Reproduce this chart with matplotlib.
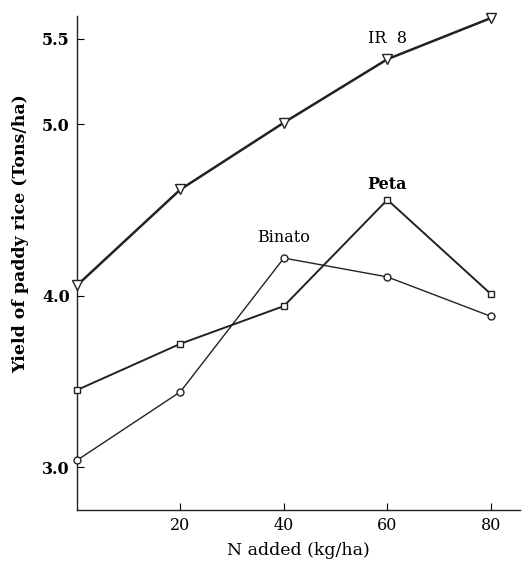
import matplotlib.pyplot as plt

# N added (kg/ha)
n_added = [0, 20, 40, 60, 80]

# yield of paddy rice (Tons/ha)
ir8 = [4.06, 4.62, 5.01, 5.38, 5.62]
peta = [3.45, 3.72, 3.94, 4.56, 4.01]
binato = [3.04, 3.44, 4.22, 4.11, 3.88]

x_ticks = [20, 40, 60, 80]
y_ticks = [3.0, 4.0, 5.0, 5.5]

plt.rcParams['font.family'] = ['DejaVu Serif']

fig = plt.figure(figsize=(5.23, 5.63), dpi=100)
ax = fig.add_axes([0.147, 0.094, 0.847, 0.877])

ax.plot(n_added, ir8, color='#222222', lw=1.8, marker='v', ms=7,
        mfc='white', mec='#222222', mew=1.0, clip_on=False, zorder=3)
ax.plot(n_added, peta, color='#222222', lw=1.4, marker='s', ms=5,
        mfc='white', mec='#222222', mew=1.0, clip_on=False, zorder=3)
ax.plot(n_added, binato, color='#222222', lw=1.0, marker='o', ms=5,
        mfc='white', mec='#222222', mew=1.0, clip_on=False, zorder=3)

ax.text(40, 4.34, 'Binato', fontsize=11.5, ha='center', va='center')
ax.text(60, 4.65, 'Peta', fontsize=11.5, ha='center', va='center', weight='bold')
ax.text(60, 5.5, 'IR  8', fontsize=11.5, ha='center', va='center')

ax.set_xlim(0, 85.6)
ax.set_ylim(2.75, 5.63)
ax.set_xticks(x_ticks)
ax.set_xticklabels([str(t) for t in x_ticks])
ax.set_yticks(y_ticks)
ax.set_yticklabels(['%.1f' % t for t in y_ticks], weight='bold')
ax.tick_params(direction='in', length=5, width=0.8, labelsize=11.5, pad=5)

for s in ['top', 'right']:
    ax.spines[s].set_visible(False)
for s in ['left', 'bottom']:
    ax.spines[s].set_linewidth(1.0)
    ax.spines[s].set_color('#222222')

ax.set_xlabel('N added (kg/ha)', fontsize=12.5, labelpad=6)
ax.set_ylabel('Yield of paddy rice (Tons/ha)', fontsize=12.5, weight='bold')
ax.yaxis.set_label_coords(-0.108, 0.56)

fig.savefig('out.png', dpi=100)
